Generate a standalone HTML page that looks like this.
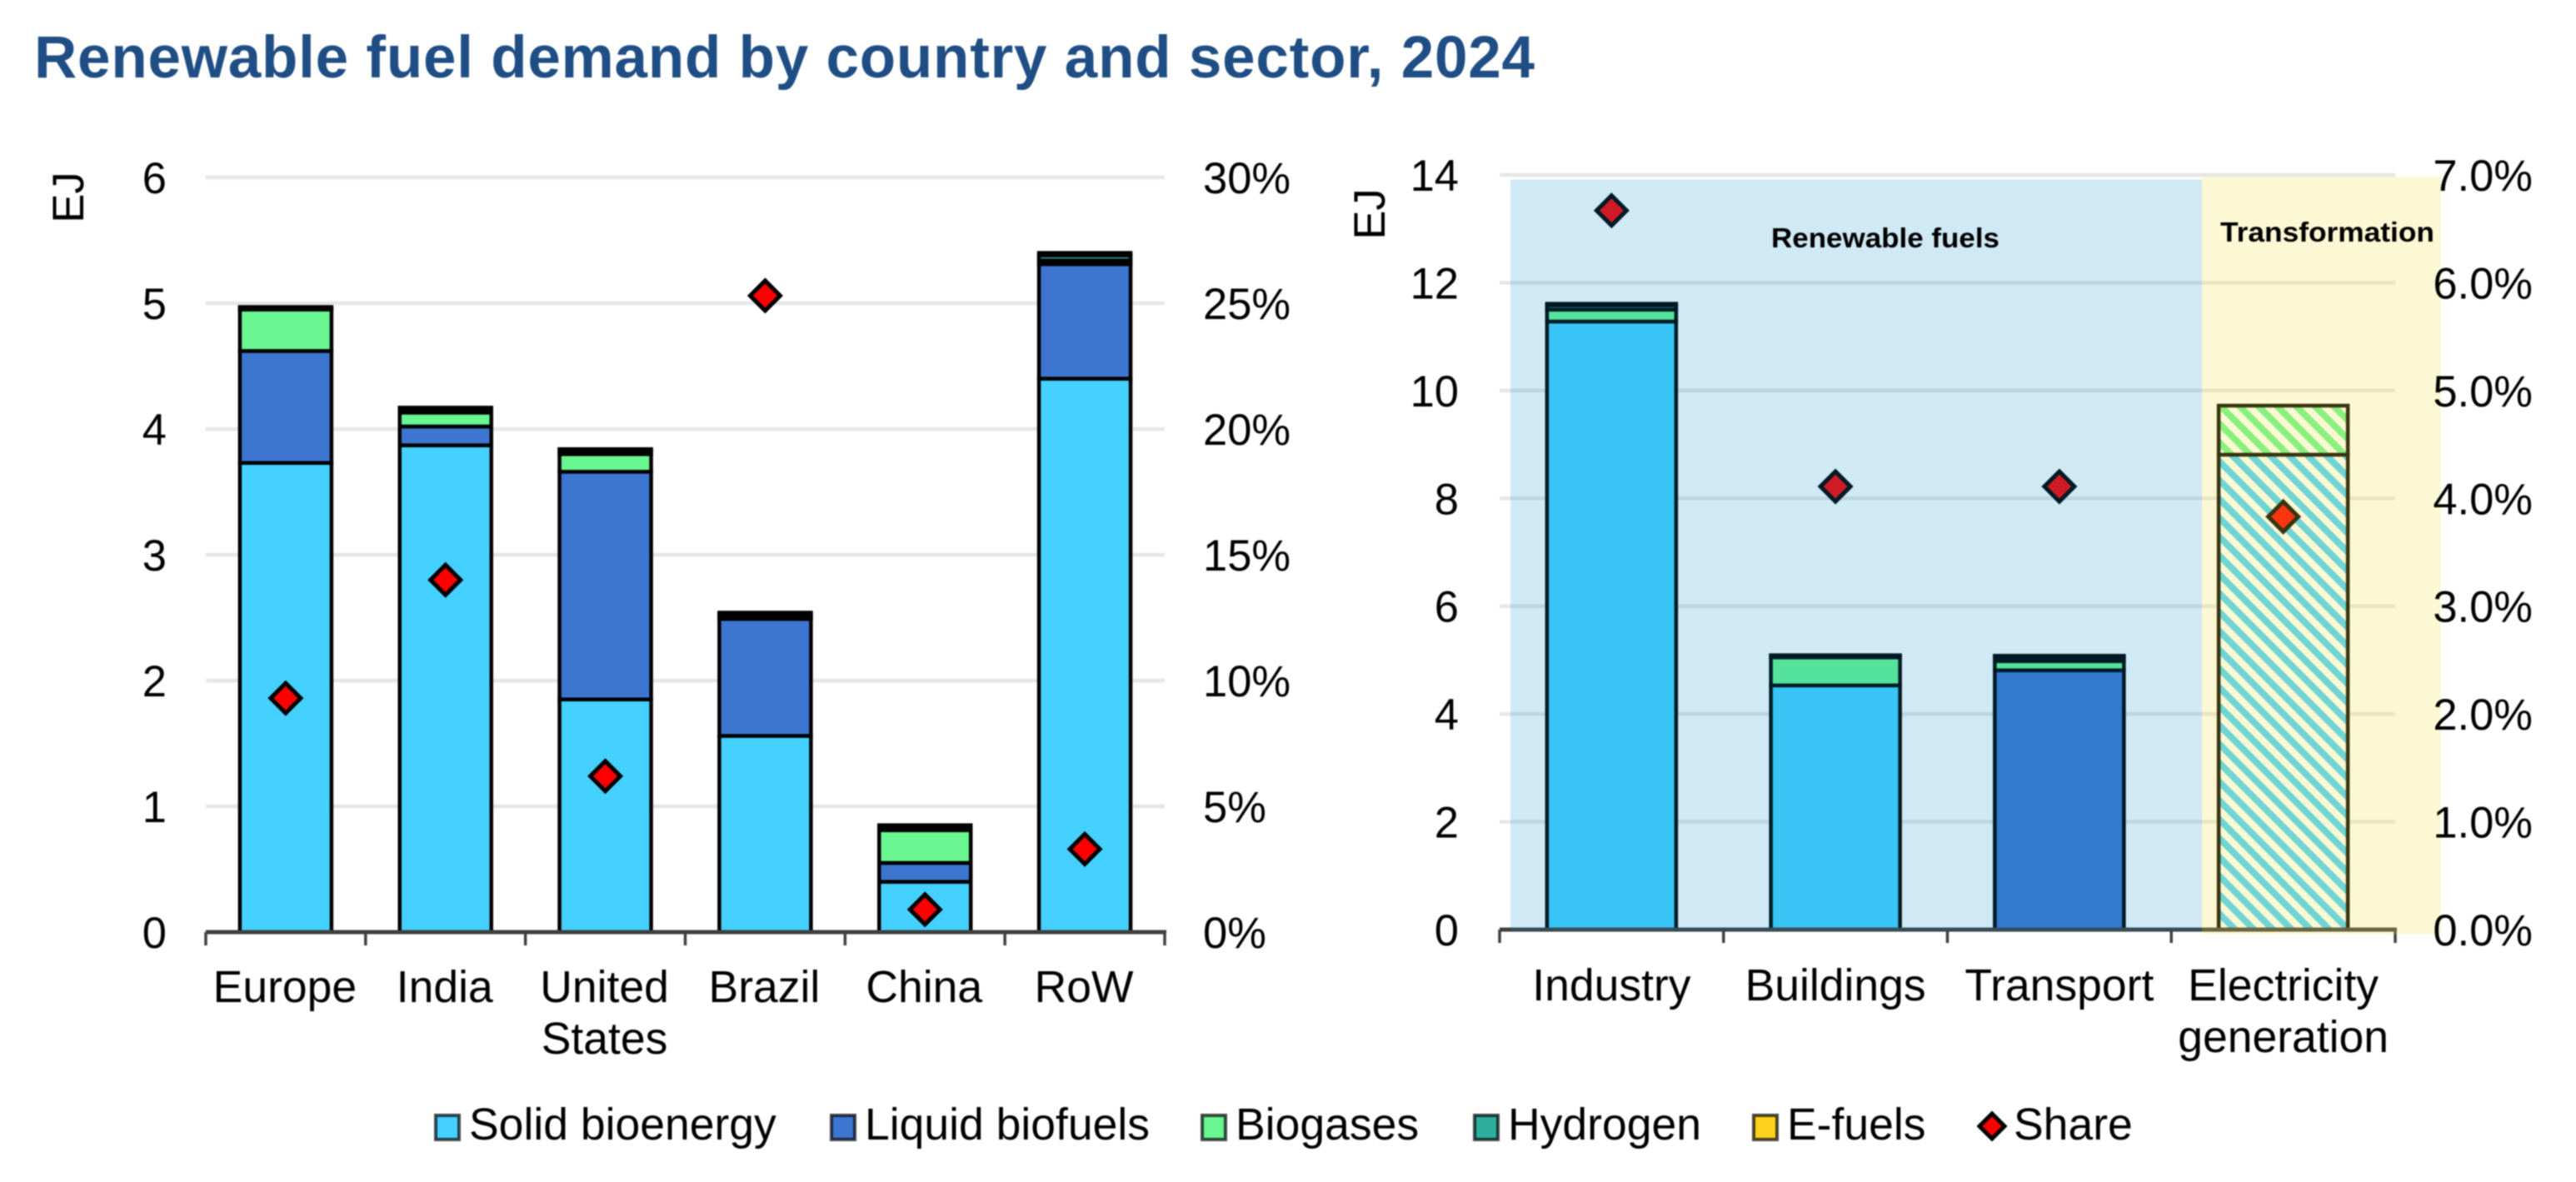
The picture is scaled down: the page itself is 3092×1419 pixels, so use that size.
<!DOCTYPE html>
<html lang="en">
<head>
<meta charset="utf-8">
<title>Renewable fuel demand by country and sector, 2024</title>
<style>
html,body{margin:0;padding:0;background:#fff;}
svg{display:block;filter:blur(0.7px);}
text{font-family:"Liberation Sans",Arial,sans-serif;fill:#000;}
</style>
</head>
<body>
<svg id="chart" xmlns="http://www.w3.org/2000/svg" width="3092" height="1419" viewBox="0 0 3092 1419">
<defs>
<pattern id="hatch-solid" patternUnits="userSpaceOnUse" width="16" height="16" patternTransform="rotate(-45)">
<rect width="16" height="16" fill="#fff"/><rect width="8" height="16" fill="#45D1FF"/>
</pattern>
<pattern id="hatch-biogas" patternUnits="userSpaceOnUse" width="16" height="16" patternTransform="rotate(-45)">
<rect width="16" height="16" fill="#fff"/><rect width="8" height="16" fill="#69F590"/>
</pattern>
</defs>
<text x="41" y="93" font-size="71" font-weight="700" textLength="1801" lengthAdjust="spacing" style="fill:#1F4E85">Renewable fuel demand by country and sector, 2024</text>
</svg>
<script>
// ---- Left panel data (EJ and share %)
const leftCategories = [["Europe"], ["India"], ["United", "States"], ["Brazil"], ["China"], ["RoW"]];
const leftSolid = [3.73, 3.87, 1.85, 1.56, 0.40, 4.40];
const leftLiquid = [0.89, 0.15, 1.81, 0.93, 0.15, 0.91];
const leftBiogas = [0.33, 0.11, 0.14, 0.01, 0.26, 0.03];
const leftHydrogen = [0.01, 0.03, 0.03, 0.03, 0.03, 0.04];
const leftEfuels = [0.01, 0.01, 0.01, 0.01, 0.01, 0.02];
const leftShare = [9.3, 14.0, 6.2, 25.3, 0.9, 3.3];
const leftTicks = [0, 1, 2, 3, 4, 5, 6];
const leftShareTicks = [0, 5, 10, 15, 20, 25, 30];

// ---- Right panel data (EJ and share %)
const rightCategories = [["Industry"], ["Buildings"], ["Transport"], ["Electricity", "generation"]];
const rightSolid = [11.28, 4.53, 0, 8.81];
const rightLiquid = [0, 0, 4.81, 0];
const rightBiogas = [0.22, 0.52, 0.17, 0.91];
const rightHydrogen = [0.08, 0.03, 0.07, 0];
const rightEfuels = [0.03, 0.01, 0.03, 0];
const rightShare = [6.67, 4.11, 4.11, 3.83];
const rightHatched = [false, false, false, true];
const rightTicks = [0, 2, 4, 6, 8, 10, 12, 14];
const rightShareTicks = [0, 1, 2, 3, 4, 5, 6, 7];

// ---- Legend
const legendLabels = ["Solid bioenergy", "Liquid biofuels", "Biogases", "Hydrogen", "E-fuels"];

const seriesColors = ["#45D1FF", "#3D76D0", "#69F590", "#2FAE9F", "#FFD21F"];
const seriesNames = ["solid-bioenergy", "liquid-biofuels", "biogases", "hydrogen", "e-fuels"];
const svg = document.getElementById("chart");
const NS = "http://www.w3.org/2000/svg";
function mk(tag, attrs, text) {
  const el = document.createElementNS(NS, tag);
  for (const k in attrs) el.setAttribute(k, attrs[k]);
  if (text !== undefined) el.textContent = text;
  svg.appendChild(el);
  return el;
}
function diamondPoints(cx, cy, r) {
  return [cx, cy - r, cx + r, cy, cx, cy + r, cx - r, cy].join(" ");
}
const FONT = 52.5;
const CAT_FONT = 53.5;

function drawPanel(cfg) {
  const y = v => cfg.y0 - (v / cfg.yMax) * (cfg.y0 - cfg.yTop);
  const yShare = v => cfg.y0 - (v / cfg.shareMax) * (cfg.y0 - cfg.yTop);
  const band = (cfg.x1 - cfg.x0) / cfg.categories.length;
  const xc = i => cfg.x0 + band * (i + 0.5);

  cfg.ticks.forEach(t => {
    if (t === 0) return;
    const grid = mk("rect", {x: cfg.x0, y: y(t) - 2.25, width: cfg.x1 - cfg.x0, height: 4.5, fill: "#e6e6e6"});
    
    
  });

  cfg.categories.forEach((cat, i) => {
    let base = 0;
    cfg.series.forEach((vals, s) => {
      const v = vals[i];
      if (!v) return;
      let fill = seriesColors[s];
      if (cfg.hatched && cfg.hatched[i]) fill = s === 0 ? "url(#hatch-solid)" : "url(#hatch-biogas)";
      const top = y(base + v);
      const seg = mk("rect", {x: xc(i) - cfg.barW / 2, y: top, width: cfg.barW, height: y(base) - top,
        fill: fill, stroke: "#000", "stroke-width": 4.5});
      
      
      base += v;
    });
  });

  const axis = mk("rect", {x: cfg.x0, y: cfg.y0 - 2.5, width: cfg.x1 - cfg.x0 + 2, height: 5, fill: "#404040"});
  
  
  for (let i = 0; i <= cfg.categories.length; i++) {
    const tick = mk("rect", {x: cfg.x0 + band * i - 1.75, y: cfg.y0, width: 3.5, height: 16, fill: "#404040"});
    
    
  }

  cfg.share.forEach((v, i) => {
    const m = mk("polygon", {points: diamondPoints(xc(i), yShare(v), 18), fill: "#FF0000", stroke: "#000",
      "stroke-width": 5, "stroke-linejoin": "miter"});
    
    
  });

  if (cfg.overlays) cfg.overlays();

  cfg.ticks.forEach(t => {
    const lab = mk("text", {x: cfg.leftLabelX, y: y(t) + 19, "font-size": FONT, "text-anchor": "end"}, String(t));
    
    
  });
  cfg.shareTicks.forEach(t => {
    const lab = mk("text", {x: cfg.rightLabelX, y: yShare(t) + 19, "font-size": FONT, "text-anchor": cfg.rightAnchor},
      cfg.shareFmt(t));
    
    
  });
  cfg.categories.forEach((cat, i) => {
    cat.forEach((line, k) => {
      const lab = mk("text", {x: xc(i) + cfg.labelShift, y: cfg.labelY + k * 62, "font-size": CAT_FONT, "text-anchor": "middle"}, line);
      
      
    });
  });
  const title = mk("text", {transform: "translate(" + cfg.ejX + " " + cfg.ejY + ") rotate(-90)", "font-size": FONT, "text-anchor": "middle"}, "EJ");
  
  
}

drawPanel({
  id: "country", categories: leftCategories,
  series: [leftSolid, leftLiquid, leftBiogas, leftHydrogen, leftEfuels], share: leftShare,
  ticks: leftTicks, shareTicks: leftShareTicks, yMax: 6, shareMax: 30,
  shareFmt: t => t + "%",
  x0: 247, x1: 1398, y0: 1119, yTop: 213, barW: 110,
  leftLabelX: 200, rightLabelX: 1444, rightAnchor: "start", labelY: 1203, labelShift: -1, ejX: 100, ejY: 237
});

drawPanel({
  id: "sector", categories: rightCategories,
  series: [rightSolid, rightLiquid, rightBiogas, rightHydrogen, rightEfuels], share: rightShare, hatched: rightHatched,
  ticks: rightTicks, shareTicks: rightShareTicks, yMax: 14, shareMax: 7,
  shareFmt: t => t.toFixed(1) + "%",
  x0: 1800, x1: 2875, y0: 1116, yTop: 210, barW: 155,
  leftLabelX: 1751, rightLabelX: 3040, rightAnchor: "end", labelY: 1201, labelShift: 0, ejX: 1662, ejY: 257,
  overlays: function () {
    const blue = mk("rect", {x: 1813, y: 215.6, width: 830, height: 902, fill: "rgb(0,141,201)", "fill-opacity": 0.184});
    
    
    const yellow = mk("rect", {x: 2643, y: 212, width: 287, height: 909.5, fill: "rgb(248,226,70)", "fill-opacity": 0.23});
    
    
    const a = mk("text", {x: 2126, y: 297, "font-size": 33, "font-weight": 700, textLength: 274, lengthAdjust: "spacingAndGlyphs"}, "Renewable fuels");
    
    
    const b = mk("text", {x: 2665, y: 290, "font-size": 33, "font-weight": 700, textLength: 257, lengthAdjust: "spacingAndGlyphs"}, "Transformation");
    
    
  }
});

// Legend layout: swatch left edges and text follow each other in reading order.
const legendSwatchX = [521, 996, 1441, 1768, 2103];
legendLabels.forEach((label, i) => {
  const sw = mk("rect", {x: legendSwatchX[i] + 2, y: 1339, width: 28, height: 29, fill: seriesColors[i], stroke: "#000", "stroke-opacity": 0.7, "stroke-width": 4});
  
  
  const tx = mk("text", {x: legendSwatchX[i] + 42, y: 1368, "font-size": 53.5}, label);
  
  
});
const legendDiamond = mk("polygon", {points: diamondPoints(2391, 1352, 15), fill: "#FF0000", stroke: "#000", "stroke-width": 5});


const legendShareText = mk("text", {x: 2417, y: 1368, "font-size": 53.5}, "Share");


</script>
</body>
</html>
